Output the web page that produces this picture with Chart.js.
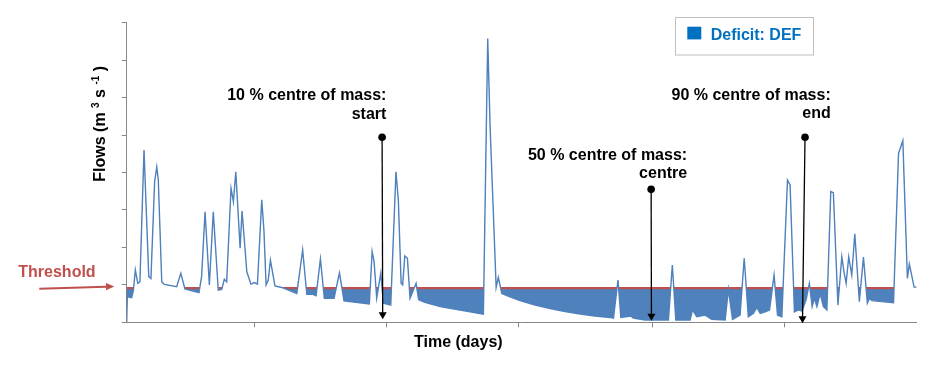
<!DOCTYPE html>
<html>
<head>
<meta charset="utf-8">
<script src="https://cdn.jsdelivr.net/npm/chart.js@4/dist/chart.umd.min.js"></script>
<style>
  html, body { margin: 0; padding: 0; background: #ffffff; }
  #wrap { width: 935px; height: 370px; }
</style>
</head>
<body>
<div id="wrap"><canvas id="c" width="935" height="370"></canvas></div>
<script>
// ---------- DATA ----------
const days = [0,0.3,2.3,3.1,4.0,5.1,6.1,8.0,10.2,11.2,
  12.9,13.9,14.6,16.2,17.4,23.1,25.0,26.9,33.4,34.6,
  36.2,38.2,40.0,42.3,43.9,45.1,46.2,48.2,49.3,50.4,
  52.4,53.3,55.5,57.4,59.0,60.4,62.4,63.4,64.4,65.4,
  66.4,68.5,71.6,78.6,81.3,83.2,85.8,87.5,89.5,91.3,
  95.8,98.3,100.4,112.1,113.4,114.3,115.5,117.4,118.6,122.0,
  124.4,125.5,126.8,127.5,128.5,129.7,130.9,133.7,134.9,137.8,
  144.8,154.0,164.8,166.8,167.9,170.7,171.7,173.3,177.1,181.7,
  188.7,195.6,202.5,209.5,216.4,223.3,224.9,227.0,228.3,232.9,
  234.1,239.5,250.3,252.1,253.7,260.3,261.4,263.4,267.2,270.3,
  276.5,278.0,279.9,283.4,285.3,287.2,289.6,291.1,292.7,295.0,
  297.0,299.1,300.7,302.7,305.3,306.5,308.5,310.4,312.0,313.9,
  315.4,316.7,317.7,318.9,320.4,321.9,323.5,325.3,326.5,328.6,
  330.4,331.5,332.4,333.6,335.0,336.4,338.5,340.4,342.2,343.2,
  344.3,354.3,356.6,358.6,360.7,361.6,363.8,365];

const flows = [0,6.8,6.6,8.6,14.0,10.4,10.8,46.0,12.2,11.7,
  37.5,41.5,38.0,10.8,10.1,9.5,13.1,8.9,7.9,12.2,
  29.5,10.0,29.5,8.6,8.8,11.5,10.8,35.8,32.2,40.2,
  19.8,29.7,13.5,10.2,10.6,10.2,32.7,24.6,10.0,11.3,
  16.6,9.7,9.3,7.7,19.3,7.5,7.5,7.1,16.9,6.4,
  6.4,13.2,5.7,4.9,18.9,16.2,6.4,13.1,5.1,4.6,
  40.2,32.7,10.4,10.0,17.7,17.1,6.4,10.4,6.0,5.3,
  4.2,3.3,2.2,75.8,52.2,9.3,12.0,7.7,6.8,5.8,
  4.6,3.7,2.9,2.2,1.7,1.3,1.1,11.3,1.3,1.7,
  1.1,0.6,0.6,15.3,0.6,0.6,3.3,1.5,1.9,0.8,
  0.6,8.8,0.8,1.9,17.1,1.5,2.4,4.0,2.4,2.8,
  3.3,12.6,1.9,1.5,38.0,36.7,2.8,3.3,3.0,6.0,
  10.4,4.2,6.4,4.2,7.7,4.2,3.3,34.9,34.6,4.6,
  17.5,13.1,10.4,17.5,12.6,23.6,5.5,17.4,5.1,6.4,
  5.8,5.2,45.1,48.5,11.7,15.6,9.4,9.4];

const threshold = 9.1;
const xTickDays = [59, 120, 181, 243, 304];       // tick marks on the time axis
const yTickStep = 10;
const yMax = 80;

// centre-of-mass markers
const comDays = [118.0, 242.3, 313.4];
const comDotFlow = [49.4, 35.5, 49.4];
const comLabels = [
  ["10 % centre of mass:", "start"],
  ["50 % centre of mass:", "centre"],
  ["90 % centre of mass:", "end"]
];
const legendLabel = "Deficit: DEF";
const thresholdLabel = "Threshold";
const xTitle = "Time (days)";

// ---------- STYLE / LAYOUT ----------
const BLUE = '#4f81bd';
const RED = '#c0504d';
const AXIS = '#868686';
const FONT = '"Liberation Sans", Arial, sans-serif';
const BAND = 0.3; // half thickness of red threshold line in value units

const comLayout = [
  { tipDx: 0.6, tipDy: -3.0, textDx: 4.3, l1: -36.8, l2: -18.3 },
  { tipDx: 0.3, tipDy: -1.6, textDx: 36.0, l1: -29.3, l2: -11.8 },
  { tipDx: -2.5, tipDy: 1.0, textDx: 25.7, l1: -37.3, l2: -19.0 }
];

const flowPts = days.map((d, i) => ({ x: d, y: flows[i] }));
const thrHiPts = days.map(d => ({ x: d, y: threshold + BAND }));
const thrLoPts = days.map(d => ({ x: d, y: threshold - BAND }));

const deco = {
  id: 'deco',
  afterDatasetsDraw(chart) {
    const { ctx, scales: { x, y } } = chart;
    ctx.save();
    comDays.forEach((d, i) => {
      const L = comLayout[i];
      const px = x.getPixelForValue(d);
      const dotY = y.getPixelForValue(comDotFlow[i]);
      const tipX = px + L.tipDx;
      const tipY = y.bottom + L.tipDy;
      ctx.strokeStyle = '#000';
      ctx.fillStyle = '#000';
      ctx.lineWidth = 1.3;
      ctx.beginPath();
      ctx.moveTo(px, dotY);
      ctx.lineTo(tipX, tipY - 5);
      ctx.stroke();
      ctx.beginPath();
      ctx.moveTo(tipX, tipY);
      ctx.lineTo(tipX - 4, tipY - 7);
      ctx.lineTo(tipX + 4, tipY - 7);
      ctx.closePath();
      ctx.fill();
      ctx.beginPath();
      ctx.arc(px, dotY, 3.8, 0, Math.PI * 2);
      ctx.fill();
      ctx.font = 'bold 16px ' + FONT;
      ctx.textAlign = 'right';
      ctx.textBaseline = 'alphabetic';
      ctx.fillText(comLabels[i][0], px + L.textDx, dotY + L.l1);
      ctx.fillText(comLabels[i][1], px + L.textDx, dotY + L.l2);
    });
    ctx.restore();
  },
  afterDraw(chart) {
    const { ctx, scales: { x, y } } = chart;
    ctx.save();
    // x title
    ctx.fillStyle = '#000';
    ctx.font = 'bold 16px ' + FONT;
    ctx.textAlign = 'center';
    ctx.textBaseline = 'alphabetic';
    ctx.fillText(xTitle, 458.3, 346.7);

    // y title with superscripts
    ctx.save();
    ctx.translate(105, 181.7);
    ctx.rotate(-Math.PI / 2);
    ctx.textAlign = 'left';
    let cx = 0;
    const parts = [
      ['Flows (m', 16, 0], [' ', 16, 0], ['3', 10, -6], [' s', 16, 0], [' ', 16, 0], ['-1', 10, -6], [' )', 16, 0]
    ];
    parts.forEach(([t, s, dy]) => {
      ctx.font = 'bold ' + s + 'px ' + FONT;
      ctx.fillText(t, cx, dy);
      cx += ctx.measureText(t).width;
    });
    ctx.restore();

    // threshold label + arrow
    ctx.fillStyle = RED;
    ctx.strokeStyle = RED;
    ctx.font = 'bold 16px ' + FONT;
    ctx.textAlign = 'left';
    ctx.fillText(thresholdLabel, 18.3, 276.7);
    const ty = y.getPixelForValue(threshold);
    ctx.lineWidth = 2;
    ctx.beginPath();
    ctx.moveTo(39.3, ty + 0.5);
    ctx.lineTo(106, ty - 1.4);
    ctx.stroke();
    ctx.beginPath();
    ctx.moveTo(114.3, ty - 1.6);
    ctx.lineTo(106, ty - 5.2);
    ctx.lineTo(106, ty + 2.0);
    ctx.closePath();
    ctx.fill();

    // legend
    ctx.strokeStyle = '#bfbfbf';
    ctx.lineWidth = 1;
    ctx.strokeRect(675.5, 17.5, 138, 37.5);
    ctx.fillStyle = '#0070c0';
    ctx.fillRect(687.3, 26.7, 14, 12.7);
    ctx.font = 'bold 16px ' + FONT;
    ctx.fillText(legendLabel, 710.7, 40);
    ctx.restore();
  }
};

new Chart(document.getElementById('c'), {
  type: 'line',
  data: {
    datasets: [
      {
        label: 'Flow',
        data: flowPts,
        borderColor: BLUE,
        borderWidth: 1.4,
        pointRadius: 0,
        tension: 0,
        fill: false
      },
      {
        label: legendLabel,
        data: thrLoPts,
        borderWidth: 0,
        borderColor: 'rgba(0,0,0,0)',
        pointRadius: 0,
        fill: { target: 0, above: BLUE, below: 'rgba(0,0,0,0)' }
      },
      {
        label: 'Threshold',
        data: thrHiPts,
        borderWidth: 0,
        borderColor: 'rgba(0,0,0,0)',
        pointRadius: 0,
        fill: { target: 0, above: RED, below: 'rgba(0,0,0,0)' }
      }
    ]
  },
  options: {
    responsive: false,
    animation: false,
    devicePixelRatio: 1,
    layout: { padding: { left: 121.7, right: 18.3, top: 22.7, bottom: 42.7 } },
    plugins: { legend: { display: false }, tooltip: { enabled: false }, title: { display: false } },
    scales: {
      x: {
        type: 'linear',
        min: 0,
        max: 365,
        afterBuildTicks(scale) { scale.ticks = xTickDays.map(v => ({ value: v })); },
        afterFit(scale) { scale.height = 5; },
        ticks: { display: false },
        grid: { drawOnChartArea: false, drawTicks: true, tickLength: 5, color: AXIS },
        border: { display: true, color: AXIS, width: 1 }
      },
      y: {
        type: 'linear',
        min: 0,
        max: yMax,
        ticks: { display: false, stepSize: yTickStep },
        afterFit(scale) { scale.width = 5; },
        grid: { drawOnChartArea: false, drawTicks: true, tickLength: 5, color: AXIS },
        border: { display: true, color: AXIS, width: 1 }
      }
    }
  },
  plugins: [deco]
});
</script>
</body>
</html>
